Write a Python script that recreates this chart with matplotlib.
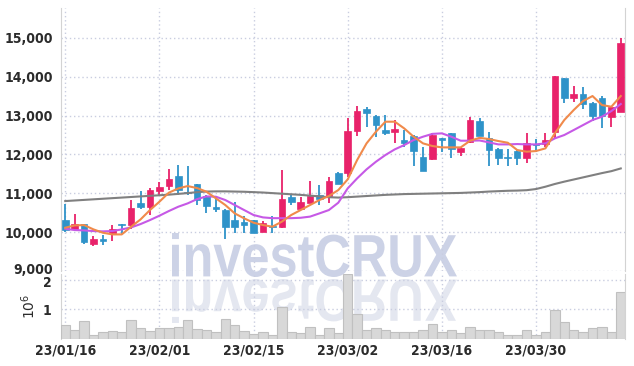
import matplotlib
matplotlib.use("Agg")
import matplotlib.pyplot as plt
from matplotlib.ticker import FixedLocator, FuncFormatter
from matplotlib.textpath import TextPath
from matplotlib.patches import PathPatch
from matplotlib.font_manager import FontProperties
from matplotlib.transforms import Affine2D, IdentityTransform, ScaledTranslation

dates = [
    "2023-01-16", "2023-01-17", "2023-01-18", "2023-01-19", "2023-01-20",
    "2023-01-25", "2023-01-26", "2023-01-27", "2023-01-30", "2023-01-31",
    "2023-02-01", "2023-02-02", "2023-02-03", "2023-02-06", "2023-02-07",
    "2023-02-08", "2023-02-09", "2023-02-10", "2023-02-13", "2023-02-14",
    "2023-02-15", "2023-02-16", "2023-02-17", "2023-02-20", "2023-02-21",
    "2023-02-22", "2023-02-23", "2023-02-24", "2023-02-27", "2023-02-28",
    "2023-03-02", "2023-03-03", "2023-03-06", "2023-03-07", "2023-03-08",
    "2023-03-09", "2023-03-10", "2023-03-13", "2023-03-14", "2023-03-15",
    "2023-03-16", "2023-03-17", "2023-03-20", "2023-03-21", "2023-03-22",
    "2023-03-23", "2023-03-24", "2023-03-27", "2023-03-28", "2023-03-29",
    "2023-03-30", "2023-03-31", "2023-04-03", "2023-04-04", "2023-04-05",
    "2023-04-06", "2023-04-07", "2023-04-10", "2023-04-11", "2023-04-12",
]

opens = [10311, 10088, 10208, 9693, 9831, 9985, 10200, 10174, 10757, 10654,
         11066, 11195, 11444, 11020, 11238, 10930, 10638, 10569, 10312, 10260,
         10312, 10012, 10158, 10123, 10912, 10604, 10758, 10947, 10930, 11513,
         11513, 12611, 13169, 12989, 12628, 12577, 12371, 12474, 11942, 11882,
         12414, 12551, 12071, 12311, 12869, 12414, 12131, 11933, 12088, 11916,
         12277, 12260, 12585, 13958, 13461, 13555, 13332, 13461, 12971, 13100]
highs = [10723, 10457, 10208, 9899, 9916, 10174, 10208, 10826, 11066, 11143,
         11298, 11624, 11727, 11690, 11250, 10955, 10930, 10586, 10767, 10423,
         10312, 10295, 10415, 11599, 10973, 10912, 11307, 11204, 11410, 11556,
         12929, 13255, 13212, 13006, 13015, 12886, 12628, 12491, 12182, 12560,
         12420, 12560, 12199, 12972, 12929, 12568, 12156, 12139, 12105, 12543,
         12388, 12543, 14018, 13970, 13752, 13727, 13340, 13512, 13229, 15005]
lows = [10002, 10071, 9685, 9650, 9668, 9771, 9959, 10071, 10586, 10440,
        10955, 11083, 10955, 10960, 10698, 10500, 10509, 9823, 9986, 9986,
        9969, 9994, 9986, 10115, 10690, 10586, 10741, 10698, 10741, 11230,
        11410, 12474, 12697, 12457, 12491, 12285, 12182, 11702, 11582, 11856,
        12071, 11899, 11959, 12285, 12465, 11693, 11727, 11693, 11727, 11770,
        12071, 12200, 12414, 13315, 13340, 13169, 12860, 12671, 12714, 13100]
closes = [10054, 10208, 9754, 9822, 9779, 10080, 10174, 10612, 10654, 11083,
          11161, 11366, 11083, 11000, 10827, 10672, 10595, 10123, 10140, 10192,
          9986, 10226, 10123, 10852, 10767, 10775, 10930, 10844, 11316, 11239,
          12603, 13117, 13075, 12766, 12560, 12646, 12285, 12096, 11582, 12500,
          12371, 12139, 12157, 12886, 12482, 12122, 11916, 11908, 11916, 12294,
          12251, 12362, 14018, 13461, 13555, 13298, 12997, 12997, 13229, 14859]

ma5 = [10114, 10174, 10182, 10071, 9985, 9942, 9942, 10140, 10328, 10569,
       10783, 11015, 11126, 11186, 11135, 11041, 10870, 10698, 10483, 10355,
       10243, 10183, 10140, 10269, 10441, 10569, 10698, 10827, 10930, 11084,
       11359, 11856, 12285, 12586, 12843, 12843, 12671, 12457, 12285, 12217,
       12182, 12182, 12182, 12354, 12427, 12397, 12345, 12302, 12114, 12071,
       12088, 12157, 12543, 12886, 13143, 13375, 13504, 13272, 13229, 13504]
ma10 = [10088, 10054, 10045, 10028, 10020, 10028, 10071, 10122, 10208, 10311,
        10423, 10543, 10654, 10740, 10850, 10920, 10912, 10827, 10698, 10569,
        10441, 10380, 10360, 10360, 10360, 10370, 10400, 10483, 10569, 10758,
        11127, 11384, 11616, 11813, 11985, 12131, 12242, 12371, 12457, 12530,
        12543, 12457, 12354, 12354, 12360, 12311, 12259, 12259, 12268, 12259,
        12259, 12285, 12414, 12500, 12628, 12757, 12886, 12972, 13117, 13298]
ma60 = [10800, 10815, 10830, 10845, 10860, 10875, 10890, 10905, 10920, 10935,
        10950, 10965, 10985, 11005, 11030, 11045, 11050, 11050, 11045, 11040,
        11030, 11020, 11005, 10990, 10975, 10960, 10940, 10920, 10900, 10890,
        10900, 10915, 10930, 10945, 10960, 10970, 10980, 10985, 10990, 10995,
        11000, 11005, 11010, 11020, 11030, 11045, 11055, 11065, 11070, 11080,
        11110, 11170, 11240, 11300, 11355, 11410, 11465, 11520, 11570, 11640]

volume_m = [0.47, 0.30, 0.60, 0.15, 0.22, 0.26, 0.23, 0.64, 0.36, 0.27,
            0.37, 0.37, 0.40, 0.64, 0.33, 0.30, 0.23, 0.69, 0.47, 0.27,
            0.17, 0.22, 0.15, 1.07, 0.22, 0.19, 0.39, 0.15, 0.36, 0.19,
            2.21, 0.86, 0.32, 0.37, 0.29, 0.24, 0.24, 0.24, 0.30, 0.49,
            0.22, 0.30, 0.19, 0.39, 0.30, 0.30, 0.22, 0.15, 0.15, 0.32,
            0.12, 0.22, 0.98, 0.56, 0.30, 0.25, 0.36, 0.39, 0.25, 1.57]

price_ticks = [9000, 10000, 11000, 12000, 13000, 14000, 15000]
volume_ticks = [1, 2]
date_tick_step = 10

UP = "#e8226a"
DOWN = "#2f93c9"
C_MA5 = "#f08a4b"
C_MA10 = "#c659e6"
C_MA60 = "#808080"
GRID = "#c9cde0"
TXT = "#2b2b2b"

LBL_FONT = FontProperties(family="DejaVu Sans", stretch="condensed", weight="bold", size=10)

W, H = 634, 366
fig = plt.figure(figsize=(W / 100, H / 100), dpi=100)
fig.patch.set_facecolor("white")

def fx(px):
    return px / W

def fy(py):
    return 1 - py / H

ax = fig.add_axes([fx(61), fy(271), fx(625) - fx(61), (271 - 8) / H])
axv = fig.add_axes([fx(61), fy(339), fx(625) - fx(61), (339 - 273.5) / H], sharex=ax)
for a in (ax, axv):
    a.patch.set_alpha(0)

xs = list(range(len(dates)))
bw = 0.7
for i in xs:
    o, h, l, c = opens[i], highs[i], lows[i], closes[i]
    col = UP if c >= o else DOWN
    ax.vlines(i, l, h, color=col, linewidth=1.3, zorder=3)
    lo = min(o, c)
    hgt = max(abs(c - o), 25)
    ax.bar(i, hgt, bottom=lo, width=bw, color=col, edgecolor=col, linewidth=0.5, zorder=4)

ax.plot(xs, ma60, color=C_MA60, lw=1.5, zorder=5)
ax.plot(xs, ma10, color=C_MA10, lw=1.5, zorder=5)
ax.plot(xs, ma5, color=C_MA5, lw=1.5, zorder=6)

axv.bar(xs, volume_m, width=1.0, color="#d8d8d8", edgecolor="#c0c0c0", linewidth=0.8, zorder=3)

ax.set_xlim(-0.45, 59.45)
ax.set_ylim(9000, 15770)
axv.set_ylim(0, 2.21)

tick_idx = list(range(0, len(dates), date_tick_step))
tick_lbl = [d[2:4] + "/" + d[5:7] + "/" + d[8:10] for d in (dates[i] for i in tick_idx)]

ax.yaxis.set_major_locator(FixedLocator(price_ticks))
ax.yaxis.set_major_formatter(FuncFormatter(lambda v, p: f"{int(v):,}"))
axv.yaxis.set_major_locator(FixedLocator(volume_ticks))
axv.yaxis.set_major_formatter(FuncFormatter(lambda v, p: f"{int(v)}"))
axv.xaxis.set_major_locator(FixedLocator(tick_idx))
axv.set_xticklabels(tick_lbl)
ax.tick_params(axis="x", labelbottom=False, length=0)

for a in (ax, axv):
    a.grid(True, color=GRID, linestyle=(0, (1, 2)), linewidth=1.0, zorder=0)
    a.tick_params(length=0, colors=TXT)
    for s in a.spines.values():
        s.set_visible(False)
    a.spines["left"].set_visible(True)
    a.spines["left"].set_color("#d3d3d3")
    a.spines["right"].set_visible(True)
    a.spines["right"].set_color("#d3d3d3")
    a.set_axisbelow(True)

ax.tick_params(axis="y", pad=6)
axv.tick_params(axis="y", pad=7)
axv.tick_params(axis="x", pad=3)

for lbl in ax.get_yticklabels() + axv.get_yticklabels() + axv.get_xticklabels():
    lbl.set_fontproperties(LBL_FONT)
    lbl.set_color(TXT)

axv.set_ylabel(r"$10^6$", fontsize=10, color=TXT, labelpad=3)

# small vertical nudges so the two stacked labels at the panel seam do not collide
fig.canvas.draw()
ax.yaxis.get_major_ticks()[0].label1.set_transform(
    ax.yaxis.get_major_ticks()[0].label1.get_transform()
    + ScaledTranslation(0, 2 / 100, fig.dpi_scale_trans))
axv.yaxis.get_major_ticks()[1].label1.set_transform(
    axv.yaxis.get_major_ticks()[1].label1.get_transform()
    + ScaledTranslation(0, -2 / 100, fig.dpi_scale_trans))

# watermark with reflection
tp = TextPath((0, 0), "investCRUX", size=100,
              prop=FontProperties(family="Liberation Sans", weight="bold"))
bb = tp.get_extents()
x0p, x1p, ytop, ybase = 172, 457, 233, 277
sx = (x1p - x0p) / bb.width
sy = (ybase - ytop) / bb.height
t_main = (Affine2D().translate(-bb.x0, -bb.y0).scale(sx, sy)
          .translate(x0p, H - ybase))
t_refl = (Affine2D().translate(-bb.x0, -bb.y0).scale(sx, -sy)
          .translate(x0p, H - (ybase + 2)))
fig.add_artist(PathPatch(tp, transform=t_main + IdentityTransform(),
                         facecolor="#ccd2e6", edgecolor="none", zorder=-1))
fig.add_artist(PathPatch(tp, transform=t_refl + IdentityTransform(),
                         facecolor="#e4e7f0", edgecolor="none", zorder=-1))

fig.savefig("out.png", dpi=100, facecolor="white")
